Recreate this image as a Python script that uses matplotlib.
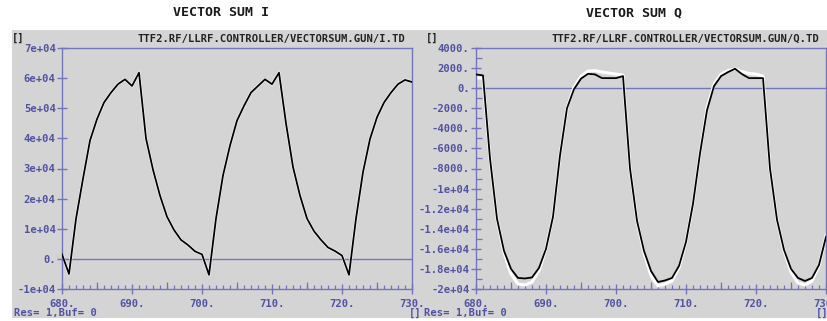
"""Vector sum I/Q traces of the gun controller, drawn in the style of the
DOOCS scope widgets (grey panel, bluish axes, bitmap-like bold mono font)."""

import matplotlib
matplotlib.use("Agg")
import matplotlib.pyplot as plt
from matplotlib.patches import Rectangle
from matplotlib.ticker import MultipleLocator

# ── data ──────────────────────────────────────────────────────────────────
sample_t = list(range(680, 731))

vsum_i = [
    1500, -5000, 13300, 26600, 39300, 46400, 51900, 55200, 58000, 59600,
    57400, 61800, 40000, 29600, 21000, 14000, 9600, 6300, 4600, 2500,
    1500, -5300, 13400, 27700, 37600, 45900, 50800, 55200, 57400, 59600,
    58000, 61800, 45000, 30500, 21000, 13400, 9200, 6300, 3800, 2600,
    1100, -5300, 13400, 28800, 39800, 47000, 51900, 55200, 58000, 59400,
    58700,
]

vsum_q = [
    1370, 1270, -7000, -13000, -16200, -18000, -18900, -18950, -18850, -17900,
    -16000, -12800, -6700, -2000, -100, 950, 1430, 1370, 1000, 1000,
    1000, 1200, -8000, -13200, -16200, -18200, -19300, -19150, -18900, -17700,
    -15300, -11500, -6500, -2200, 200, 1200, 1600, 1930, 1400, 1000,
    1000, 1000, -8000, -13100, -16100, -18000, -18900, -19200, -18900, -17600,
    -14800,
]

# second (reference) trace shown in white behind the Q signal
vsum_q_ref = [
    1000, 1000, -7000, -13000, -16400, -18500, -19500, -19600, -19300, -18200,
    -16000, -12800, -6700, -2000, 100, 1200, 1700, 1750, 1600, 1500,
    1400, 1300, -8000, -13200, -16400, -18700, -19700, -19500, -19200, -17900,
    -15300, -11500, -6500, -2000, 400, 1400, 1750, 1900, 1650, 1450,
    1400, 1200, -8000, -13100, -16200, -18300, -19400, -19600, -19200, -17700,
    -14700,
]

x_ticks = [680, 690, 700, 710, 720, 730]
x_labels = ["680.", "690.", "700.", "710.", "720.", "730."]

i_ticks = [70000, 60000, 50000, 40000, 30000, 20000, 10000, 0, -10000]
i_labels = ["7e+04", "6e+04", "5e+04", "4e+04", "3e+04", "2e+04", "1e+04", "0.", "-1e+04"]

q_ticks = [4000, 2000, 0, -2000, -4000, -6000, -8000, -10000, -12000,
           -14000, -16000, -18000, -20000]
q_labels = ["4000.", "2000.", "0.", "-2000.", "-4000.", "-6000.", "-8000.",
            "-1e+04", "-1.2e+04", "-1.4e+04", "-1.6e+04", "-1.8e+04", "-2e+04"]

# ── style ─────────────────────────────────────────────────────────────────
W, H = 828, 321
PANEL_GREY = "#d4d4d4"
AXIS_BLUE = "#7474bc"
LABEL_BLUE = "#5252a2"
MONO = "DejaVu Sans Mono"

fig = plt.figure(figsize=(W / 100, H / 100), dpi=100)
fig.patch.set_facecolor("white")

# grey widget area behind both scopes
fig.patches.append(Rectangle((12 / W, 1 - 318 / H), (W - 12) / W, 288 / H,
                             transform=fig.transFigure, facecolor=PANEL_GREY,
                             edgecolor="none", zorder=-5))


def px(x, y):
    """pixel position -> figure fraction"""
    return x / W, 1 - y / H


def scope(left, ylim, yticks, ylabels, minor_y=None):
    ax = fig.add_axes([left / W, 1 - 289 / H, 350 / W, 241 / H])
    ax.set_zorder(2)
    ax.set_facecolor(PANEL_GREY)
    ax.set_xlim(680, 730)
    ax.set_ylim(*ylim)
    for sp in ax.spines.values():
        sp.set_color(AXIS_BLUE)
        sp.set_linewidth(1.0)
    ax.axhline(0, color=AXIS_BLUE, linewidth=1.0, zorder=1)

    ax.set_xticks(x_ticks)
    ax.set_xticklabels(x_labels)
    ax.xaxis.set_minor_locator(MultipleLocator(1))
    ax.set_yticks(yticks)
    ax.set_yticklabels(ylabels)
    if minor_y:
        ax.yaxis.set_minor_locator(MultipleLocator(minor_y))

    ax.tick_params(axis="both", which="major", direction="inout", color=AXIS_BLUE,
                   labelcolor=LABEL_BLUE, labelsize=7.6, width=1.0)
    ax.tick_params(axis="x", which="major", length=7, pad=4)
    ax.tick_params(axis="y", which="major", length=7, pad=1)
    ax.tick_params(axis="x", which="minor", direction="in", length=3,
                   color=AXIS_BLUE, width=0.9)
    ax.tick_params(axis="y", which="minor", direction="in", length=4,
                   color=AXIS_BLUE, width=0.9)
    for lab in ax.get_xticklabels() + ax.get_yticklabels():
        lab.set_fontfamily(MONO)
        lab.set_fontweight("bold")

    # half-decade ticks are a bit taller than the unit ticks
    mid = ax.secondary_xaxis("bottom")
    mid.set_xticks([685, 695, 705, 715, 725])
    mid.tick_params(direction="in", length=5, color=AXIS_BLUE, width=0.9,
                    labelbottom=False)
    mid.spines["bottom"].set_visible(False)
    return ax


# ── I scope ───────────────────────────────────────────────────────────────
ax_i = scope(62, (-10000, 70000), i_ticks, i_labels)
ax_i.plot(sample_t, vsum_i, color="white", linewidth=2.0, zorder=2)
ax_i.plot(sample_t, vsum_i, color="black", linewidth=1.3, zorder=3)

# ── Q scope ───────────────────────────────────────────────────────────────
ax_q = scope(476, (-20000, 4000), q_ticks, q_labels, minor_y=1000)
ax_q.plot(sample_t, vsum_q_ref, color="white", linewidth=2.2, zorder=2)
ax_q.plot(sample_t, vsum_q, color="black", linewidth=1.3, zorder=3)

# ── widget texts ──────────────────────────────────────────────────────────
txt = dict(family=MONO, fontweight="bold")
fig.text(*px(221, 13), "VECTOR SUM I", ha="center", va="center", fontsize=9.5,
         color="#1a1a1a", **txt)
fig.text(*px(634, 13), "VECTOR SUM Q", ha="center", va="center", fontsize=9.5,
         color="#1a1a1a", **txt)

fig.text(*px(12, 38), "[]", ha="left", va="center", fontsize=7.6, color="#222222", **txt)
fig.text(*px(426, 38), "[]", ha="left", va="center", fontsize=7.6, color="#222222", **txt)
fig.text(*px(405, 39), "TTF2.RF/LLRF.CONTROLLER/VECTORSUM.GUN/I.TD", ha="right",
         va="center", fontsize=7.6, color="#222222", **txt)
fig.text(*px(819, 39), "TTF2.RF/LLRF.CONTROLLER/VECTORSUM.GUN/Q.TD", ha="right",
         va="center", fontsize=7.6, color="#222222", **txt)

fig.text(*px(14, 313), "Res= 1,Buf= 0", ha="left", va="center", fontsize=7.6,
         color=LABEL_BLUE, **txt)
fig.text(*px(409, 313), "[]", ha="left", va="center", fontsize=7.6,
         color=LABEL_BLUE, **txt)
fig.text(*px(424, 313), "Res= 1,Buf= 0", ha="left", va="center", fontsize=7.6,
         color=LABEL_BLUE, **txt)
fig.text(*px(816, 313), "[]", ha="left", va="center", fontsize=7.6,
         color=LABEL_BLUE, **txt)

fig.savefig("out.png", dpi=100, facecolor=fig.get_facecolor())
plt.close(fig)
